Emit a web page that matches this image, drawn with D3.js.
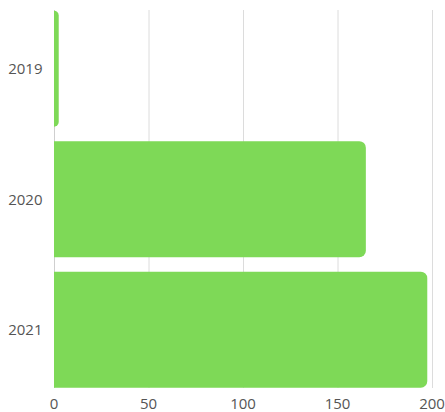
<!DOCTYPE html>
<html><head><meta charset="utf-8">
<script src="https://cdn.jsdelivr.net/npm/d3@7"></script>
<style>body{margin:0;background:#fff}svg{display:block}text{font-family:"Open Sans",sans-serif}</style>
</head><body><div id="c"></div>
<script>
const categories = ["2019","2020","2021"];
const values = [2.5, 165, 197.5];
const xTicks = [0,50,100,150,200];

const W=445,H=412;
const svg=d3.select("#c").append("svg").attr("width",W).attr("height",H);
const x=d3.scaleLinear().domain([0,200]).range([54,432]);
const y=d3.scaleBand().domain(categories).range([10.7,387.7]).paddingInner(0.111).paddingOuter(0);

// grid
svg.append("g").selectAll("line").data(xTicks.filter(t=>t>0)).join("line")
  .attr("x1",d=>x(d)+0.5).attr("x2",d=>x(d)+0.5).attr("y1",10).attr("y2",388)
  .attr("stroke","#dcdcdc").attr("stroke-width",1);
svg.append("line").attr("x1",x(0)+0.5).attr("x2",x(0)+0.5).attr("y1",10).attr("y2",388)
  .attr("stroke","#cfcfcf");

function barPath(x0,x1,y0,h){
  const w=x1-x0; const r=Math.min(6.5,w,h/2);
  return `M${x0},${y0}H${x1-r}A${r},${r} 0 0 1 ${x1},${y0+r}V${y0+h-r}A${r},${r} 0 0 1 ${x1-r},${y0+h}H${x0}Z`;
}
svg.append("g").selectAll("path").data(categories).join("path")
  .attr("d",(d,i)=>barPath(x(0),x(values[i]),y(d),y.bandwidth()))
  .attr("fill","#7ed957");

// x tick labels
svg.append("g").selectAll("text").data(xTicks).join("text")
  .attr("x",d=>x(d)).attr("y",408.5).attr("text-anchor","middle")
  .attr("font-size",15).attr("fill","#555").text(d=>d);
// y labels
svg.append("g").selectAll("text").data(categories).join("text")
  .attr("x",42.5).attr("y",d=>y(d)+y.bandwidth()/2+5.5).attr("text-anchor","end")
  .attr("font-size",15).attr("fill","#555").text(d=>d);
</script></body></html>
